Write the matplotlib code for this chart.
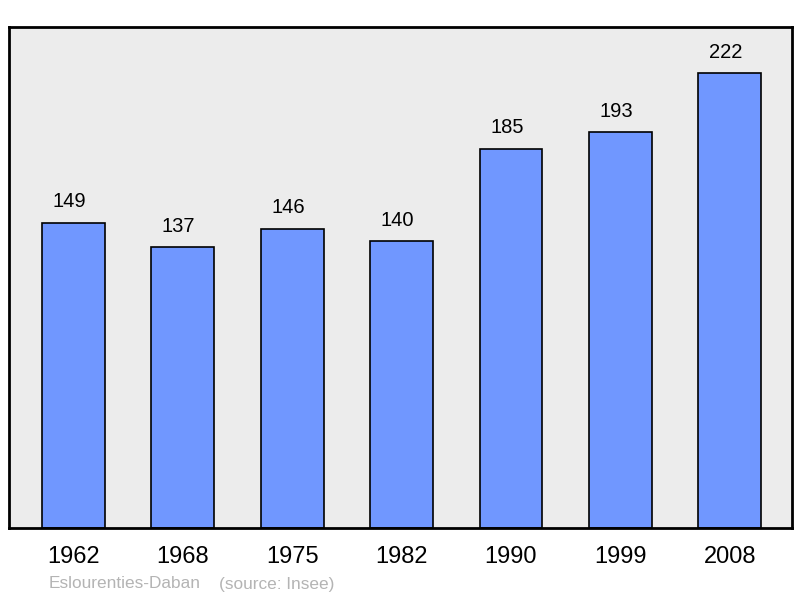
import matplotlib.pyplot as plt

plt.rcParams['font.family'] = ['Liberation Sans', 'DejaVu Sans']

# data
years = ['1962', '1968', '1975', '1982', '1990', '1999', '2008']
population = [149, 137, 146, 140, 185, 193, 222]

fig = plt.figure(figsize=(8, 5.98), dpi=100)
ax = fig.add_axes([9 / 800, 70 / 598, 783 / 800, 501 / 598])
ax.set_facecolor('#ececec')

x = range(len(years))
ax.bar(x, population, width=0.575, color='#7097ff', edgecolor='black', linewidth=1.2, zorder=2)

for xi, v in zip(x, population):
    ax.annotate(str(v), (xi, v), xytext=(-3, 15), textcoords='offset points',
                ha='center', va='center', fontsize=14.5)

ax.set_xlim(-0.59, 6.57)
ax.set_ylim(0, 244.4)
ax.set_yticks([])
ax.set_xticks(list(x))
ax.set_xticklabels(years, fontsize=17)
ax.tick_params(axis='x', length=0, pad=13)
for s in ax.spines.values():
    s.set_linewidth(2)

fig.text(49 / 800, 1 - 584 / 598, 'Eslourenties-Daban', color='#b4b4b4', fontsize=12.4, va='center')
fig.text(219 / 800, 1 - 584 / 598, '(source: Insee)', color='#b4b4b4', fontsize=12.4, va='center')

fig.savefig('out.png', dpi=100)
